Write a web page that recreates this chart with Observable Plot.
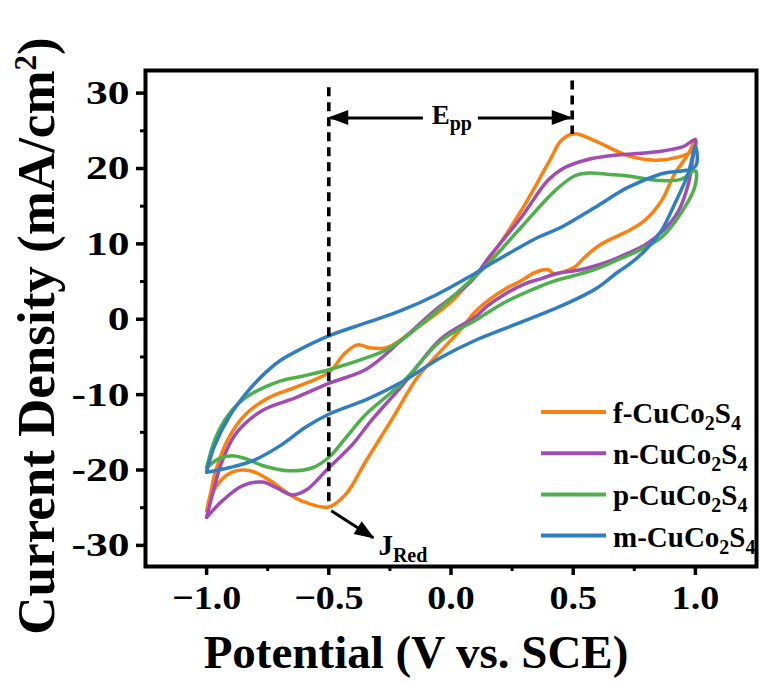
<!DOCTYPE html>
<html>
<head>
<meta charset="utf-8">
<script src="https://cdn.jsdelivr.net/npm/d3@7"></script>
<script src="https://cdn.jsdelivr.net/npm/@observablehq/plot@0.6"></script>
<style>
  html, body { margin: 0; padding: 0; background: #fff; }
</style>
</head>
<body>
<div id="chart"></div>
<script>
// ---- Data ----
const seriesKeys = ["f", "n", "p", "m"];
const seriesColors = ["#FF7F0E", "#A04BB6", "#4DB04A", "#2F7DC2"];

// f-CuCo2S4 (orange): anodic sweep -1 -> 1, then cathodic 1 -> -1
const fPotential = [-1.0,-0.98,-0.963,-0.909,-0.84,-0.745,-0.635,-0.5,-0.437,-0.383,-0.328,-0.26,-0.137,0.0,0.082,0.15,0.287,0.403,0.451,0.505,0.587,0.724,0.833,0.929,0.984,1.0,
  0.97,0.915,0.861,0.792,0.724,0.615,0.546,0.505,0.451,0.424,0.396,0.342,0.287,0.232,0.15,0.096,0.041,-0.041,-0.137,-0.246,-0.348,-0.43,-0.5,-0.594,-0.663,-0.731,-0.8,-0.854,-0.909,-0.963,-1.0];
const fCurrent = [-25.4,-22.5,-20.1,-15.7,-12.6,-10.4,-9.0,-7.05,-4.6,-3.4,-3.8,-3.74,-1.09,2.3,5.2,7.76,14.4,21.0,23.7,24.6,23.7,21.7,21.1,21.5,22.3,23.9,
  21.9,19.3,15.7,13.1,11.7,9.97,8.2,6.9,6.2,6.0,6.6,6.2,5.1,4.2,2.45,0.9,-1.3,-4.2,-7.7,-13.5,-18.8,-23.2,-24.9,-24.3,-23.2,-21.6,-20.3,-20.0,-20.5,-22.3,-25.4];

// n-CuCo2S4 (purple)
const nPotential = [-1.0,-0.97,-0.936,-0.881,-0.772,-0.635,-0.5,-0.345,-0.205,-0.068,0.082,0.15,0.287,0.396,0.464,0.56,0.65,0.724,0.861,0.95,1.0,
  0.99,0.97,0.93,0.87,0.8,0.72,0.64,0.56,0.5,0.437,0.37,0.3,0.232,0.15,0.096,-0.041,-0.205,-0.328,-0.4,-0.5,-0.594,-0.649,-0.717,-0.772,-0.854,-0.936,-1.0];
const nCurrent = [-26.3,-22.5,-18.8,-15.2,-12.1,-10.4,-8.5,-6.6,-2.85,1.13,5.0,8.0,13.5,18.4,20.1,21.2,21.7,21.9,22.3,22.9,23.8,
  21.5,17.8,14.3,11.8,10.0,8.7,7.6,6.8,6.4,6.1,5.4,4.67,3.56,1.8,0.24,-2.6,-9.0,-13.5,-16.5,-19.7,-22.7,-23.3,-22.3,-21.6,-22.1,-24.1,-26.3];

// p-CuCo2S4 (green)
const pPotential = [-1.0,-0.963,-0.909,-0.84,-0.70,-0.615,-0.5,-0.342,-0.246,-0.137,-0.041,0.014,0.082,0.15,0.287,0.424,0.505,0.56,0.65,0.724,0.861,0.943,1.0,
  0.997,0.929,0.861,0.78,0.683,0.587,0.505,0.424,0.369,0.232,0.096,-0.041,-0.205,-0.348,-0.43,-0.499,-0.567,-0.663,-0.772,-0.84,-0.895,-0.95,-1.0];
const pCurrent = [-19.7,-15.7,-12.6,-10.4,-8.2,-7.6,-6.7,-5.07,-3.74,-1.09,1.6,3.2,5.2,7.3,12.2,17.0,19.0,19.4,19.2,19.0,18.4,18.6,19.7,
  17.5,13.5,10.85,9.3,7.9,6.6,5.8,5.1,4.44,2.45,-0.2,-2.85,-8.6,-12.6,-15.7,-18.3,-19.7,-20.1,-19.4,-18.5,-18.1,-18.5,-19.7];

// m-CuCo2S4 (blue)
const mPotential = [-1.0,-0.97,-0.909,-0.84,-0.758,-0.70,-0.615,-0.5,-0.342,-0.205,-0.068,0.082,0.15,0.355,0.451,0.587,0.724,0.861,1.0,
  1.0,0.97,0.915,0.86,0.79,0.73,0.68,0.63,0.58,0.437,0.232,0.096,-0.041,-0.205,-0.342,-0.5,-0.594,-0.70,-0.813,-0.909,-1.0];
const mCurrent = [-20.3,-17.0,-13.0,-9.9,-7.05,-5.5,-3.95,-2.2,-0.42,1.13,3.12,5.77,7.1,10.85,12.2,14.8,17.5,19.3,20.3,
  23.0,19.3,15.3,11.7,9.0,7.3,6.2,4.9,3.8,1.57,-1.09,-2.85,-5.07,-8.4,-10.6,-12.6,-14.3,-16.8,-18.8,-19.7,-20.3];

// Axis ticks
const xTicks = [-1.0, -0.5, 0.0, 0.5, 1.0];
const xMinorTicks = [-0.75, -0.25, 0.25, 0.75];
const yTicks = [-30, -20, -10, 0, 10, 20, 30];
const yMinorTicks = [-25, -15, -5, 5, 15, 25];

// Annotations (data units)
const eppGuides = [-0.5, 0.496];            // dashed guide potentials
const eppGuideTop = [30.7, 31.6];           // top of each dashed guide
const eppGuideBottom = [-24.9, 24.5];       // where each guide meets the peak
const eppArrowY = 26.7;
const eppArrowStarts = [-0.115, 0.11];
const eppArrowEnds = [-0.492, 0.488];
const jRedArrow = {x1: -0.49, y1: -25.4, x2: -0.318, y2: -29.0};

// ---- Build table ----
const potentials = {f: fPotential, n: nPotential, p: pPotential, m: mPotential};
const currents = {f: fCurrent, n: nCurrent, p: pCurrent, m: mCurrent};
const rows = seriesKeys.flatMap(k => potentials[k].map((x, i) => ({series: k, x, y: currents[k][i]})));
const arrows = [
  ...eppArrowStarts.map((x1, i) => ({x1, y1: eppArrowY, x2: eppArrowEnds[i], y2: eppArrowY})),
  jRedArrow
];

const font = "'Liberation Serif', 'Times New Roman', serif";

const chart = Plot.plot({
  width: 764,
  height: 682,
  marginLeft: 145,
  marginRight: 8,
  marginTop: 70,
  marginBottom: 116,
  style: {fontFamily: font, fontSize: "34px", fontWeight: "bold", background: "#fff", color: "#000"},
  x: {domain: [-1.25, 1.25]},
  y: {domain: [-32.8, 33]},
  color: {domain: seriesKeys, range: seriesColors},
  marks: [
    Plot.axisX(xMinorTicks, {tickSize: 5, strokeWidth: 3, tickFormat: () => "", label: null}),
    Plot.axisY(yMinorTicks, {tickSize: 5, strokeWidth: 3, tickFormat: () => "", label: null}),
    Plot.axisX(xTicks, {tickSize: 9, strokeWidth: 3.5, tickPadding: 9, tickFormat: d3.format(".1f"), label: null}),
    Plot.axisY(yTicks, {tickSize: 9, strokeWidth: 3.5, tickPadding: 7, tickFormat: d => String(d), label: null}),
    Plot.line(rows, {x: "x", y: "y", z: "series", stroke: "series", strokeWidth: 3.5, curve: "catmull-rom"}),
    Plot.ruleX(eppGuides.map((x, i) => ({x, y1: eppGuideTop[i], y2: eppGuideBottom[i]})),
      {x: "x", y1: "y1", y2: "y2", stroke: "#000", strokeWidth: 3.6, strokeDasharray: "9,6"}),
    Plot.link(arrows, {x1: "x1", y1: "y1", x2: "x2", y2: "y2", stroke: "#000", strokeWidth: 3}),
    Plot.frame({stroke: "#000", strokeWidth: 4})
  ]
});

document.getElementById("chart").appendChild(chart);

const svg = d3.select(chart);
const sx = chart.scale("x"), sy = chart.scale("y");

// widen tick labels like the reference typeface
svg.selectAll('g[aria-label="y-axis tick label"] text').each(function() {
  const t = d3.select(this).attr("transform") || "";
  d3.select(this).attr("transform", t + " scale(1.28,1)");
});
svg.selectAll('g[aria-label="x-axis tick label"] text').each(function() {
  const t = d3.select(this).attr("transform") || "";
  d3.select(this).attr("transform", t + " scale(1.12,1)");
});

// filled arrow heads at the arrow tips (through the chart's scales)
arrows.forEach(a => {
  const x1 = sx.apply(a.x1), y1 = sy.apply(a.y1), x2 = sx.apply(a.x2), y2 = sy.apply(a.y2);
  const len = Math.hypot(x2 - x1, y2 - y1), ux = (x2 - x1) / len, uy = (y2 - y1) / len;
  const L = 20, W = 7.5;
  const tx = x2 + 2 * ux, ty = y2 + 2 * uy;
  const bx = tx - L * ux, by = ty - L * uy;
  svg.append("path")
    .attr("d", `M${tx},${ty}L${bx - W * uy},${by + W * ux}L${bx + W * uy},${by - W * ux}Z`)
    .attr("fill", "#000").attr("stroke", "none");
});

// Y axis title
const yt = svg.append("text")
  .attr("transform", "translate(54,336) rotate(-90)")
  .attr("text-anchor", "middle")
  .attr("font-family", font).attr("font-weight", "bold").attr("font-size", 53).attr("fill", "#000");
yt.append("tspan").text("Current Density (mA/cm");
yt.append("tspan").attr("font-size", 31).attr("dy", -18).text("2");
yt.append("tspan").attr("dy", 18).text(")");

// X axis title
svg.append("text")
  .attr("x", 416).attr("y", 668)
  .attr("text-anchor", "middle")
  .attr("font-family", font).attr("font-weight", "bold").attr("font-size", 47).attr("fill", "#000")
  .text("Potential (V vs. SCE)");

// E_pp label
const ep = svg.append("text")
  .attr("x", sx.apply(-0.077)).attr("y", sy.apply(25.9))
  .attr("text-anchor", "start")
  .attr("font-family", font).attr("font-weight", "bold").attr("font-size", 27).attr("fill", "#000");
ep.append("tspan").text("E");
ep.append("tspan").attr("font-size", 20).attr("dy", 6).text("pp");

// J_Red label
const jr = svg.append("text")
  .attr("x", sx.apply(-0.295)).attr("y", sy.apply(-31.4))
  .attr("text-anchor", "start")
  .attr("font-family", font).attr("font-weight", "bold").attr("font-size", 29).attr("fill", "#000");
jr.append("tspan").text("J");
jr.append("tspan").attr("font-size", 20).attr("dy", 7).text("Red");

// Legend
const legendLabels = ["f", "n", "p", "m"];
legendLabels.forEach((k, i) => {
  const cy = 412 + i * 41.2;
  svg.append("line").attr("x1", 541).attr("x2", 606).attr("y1", cy).attr("y2", cy)
    .attr("stroke", seriesColors[i]).attr("stroke-width", 4);
  const t = svg.append("text").attr("x", 613).attr("y", cy + 11)
    .attr("text-anchor", "start")
    .attr("font-family", font).attr("font-weight", "bold").attr("font-size", 29).attr("fill", "#000");
  t.append("tspan").text(k + "-CuCo");
  t.append("tspan").attr("font-size", 20).attr("dy", 7).text("2");
  t.append("tspan").attr("dy", -7).text("S");
  t.append("tspan").attr("font-size", 20).attr("dy", 7).text("4");
});
</script>
</body>
</html>
